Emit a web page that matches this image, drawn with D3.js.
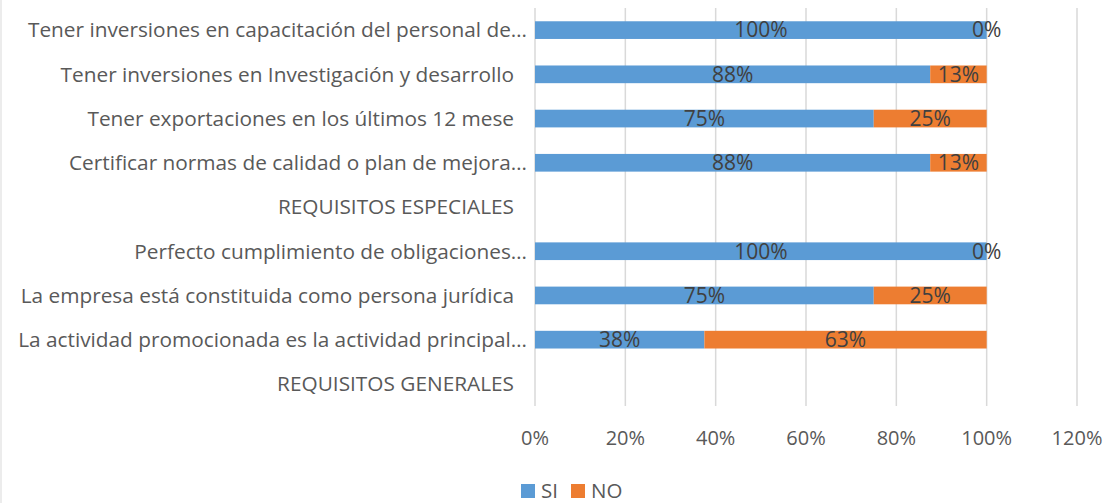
<!DOCTYPE html>
<html lang="es">
<head>
    <meta charset="utf-8">
    <title>Requisitos</title>
    <script src="https://d3js.org/d3.v7.min.js"></script>
    <style>
        body { margin: 0; background: #fff; }
        text { font-family: "Open Sans", Lato, sans-serif; }
    </style>
</head>
<body>
<svg width="1110" height="503"></svg>
<script>
    // categorias de arriba hacia abajo
    var categories = [
        "Tener inversiones en capacitación del personal de…",
        "Tener inversiones en Investigación y desarrollo",
        "Tener exportaciones en los últimos 12 mese",
        "Certificar normas de calidad o plan de mejora…",
        "REQUISITOS ESPECIALES",
        "Perfecto cumplimiento de obligaciones…",
        "La empresa está constituida como persona jurídica",
        "La actividad promocionada es la actividad principal…",
        "REQUISITOS GENERALES"
    ];
    var si = [1, 0.875, 0.75, 0.875, null, 1, 0.75, 0.375, null];
    var no = [0, 0.125, 0.25, 0.125, null, 0, 0.25, 0.625, null];
    var ticks = [0, 0.2, 0.4, 0.6, 0.8, 1, 1.2];
    var seriesNames = ["SI", "NO"];
    var colors = ["#5B9BD5", "#ED7D31"];

    var svg = d3.select("svg");

    // borde del grafico (solo se ve el lado izquierdo)
    svg.append("rect")
        .attr("x", 1).attr("y", -5)
        .attr("width", 1120).attr("height", 520)
        .attr("fill", "none")
        .attr("stroke", "#d9d9d9");

    var x = d3.scaleLinear().domain([0, 1.2]).range([535, 1077]);
    var y = d3.scaleBand().domain(categories).range([8, 406])
        .paddingInner(0.6).paddingOuter(0.3);

    // lineas de cuadricula
    svg.append("g").selectAll("line")
        .data(ticks)
        .enter().append("line")
        .attr("x1", function(d){ return x(d); })
        .attr("x2", function(d){ return x(d); })
        .attr("y1", 8).attr("y2", 406)
        .attr("stroke", "#d9d9d9")
        .attr("stroke-width", 1.5);

    // etiquetas del eje x
    svg.append("g").selectAll("text")
        .data(ticks)
        .enter().append("text")
        .attr("x", function(d){ return x(d); })
        .attr("y", 445)
        .attr("text-anchor", "middle")
        .attr("font-size", 20)
        .attr("fill", "#595959")
        .text(function(d){ return Math.round(d * 100) + "%"; });

    // etiquetas de categorias
    svg.append("g").selectAll("text")
        .data(categories)
        .enter().append("text")
        .attr("x", function(d){ return d.slice(-1) === "…" ? 527 : 514; })
        .attr("y", function(d){ return y(d) + y.bandwidth() / 2; })
        .attr("dy", "0.35em")
        .attr("text-anchor", "end")
        .attr("font-size", 20.8)
        .attr("fill", "#595959")
        .text(function(d){ return d; });

    // datos apilados
    var rows = categories.map(function(c, i){
        return { cat: c, SI: si[i], NO: no[i] };
    }).filter(function(r){ return r.SI !== null; });

    var stack = d3.stack().keys(seriesNames);
    var stacked = stack(rows);

    var layers = svg.append("g").selectAll("g")
        .data(stacked)
        .enter().append("g")
        .attr("fill", function(d, i){ return colors[i]; });

    layers.selectAll("rect")
        .data(function(d){ return d; })
        .enter().append("rect")
        .attr("x", function(d){ return x(d[0]); })
        .attr("y", function(d){ return y(d.data.cat); })
        .attr("width", function(d){ return x(d[1]) - x(d[0]); })
        .attr("height", y.bandwidth());

    // etiquetas de valores
    layers.selectAll("text")
        .data(function(d){ return d; })
        .enter().append("text")
        .attr("x", function(d){ return (x(d[0]) + x(d[1])) / 2; })
        .attr("y", function(d){ return y(d.data.cat) + y.bandwidth() / 2; })
        .attr("dy", "0.35em")
        .attr("text-anchor", "middle")
        .attr("font-size", 21)
        .attr("fill", "#404040")
        .text(function(d){ return Math.round((d[1] - d[0]) * 100) + "%"; });

    // leyenda
    var legend = svg.append("g").selectAll("g")
        .data(seriesNames)
        .enter().append("g")
        .attr("transform", function(d, i){ return "translate(" + (521 + i * 50) + ",484)"; });
    legend.append("rect")
        .attr("width", 14).attr("height", 14)
        .attr("fill", function(d, i){ return colors[i]; });
    legend.append("text")
        .attr("x", 20).attr("y", 7)
        .attr("dy", "0.35em")
        .attr("font-size", 20.5)
        .attr("fill", "#595959")
        .text(function(d){ return d; });
</script>
</body>
</html>
